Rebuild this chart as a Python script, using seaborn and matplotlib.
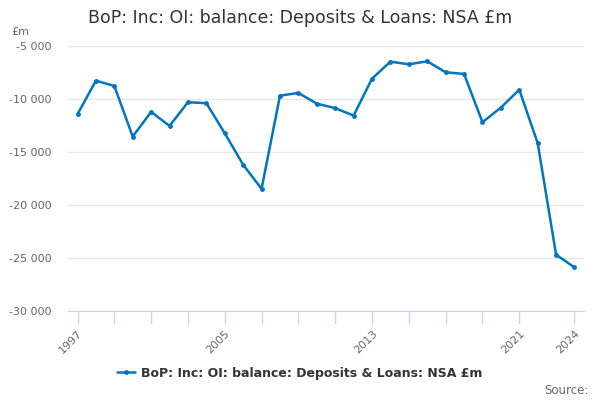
import seaborn as sns
import pandas as pd
import matplotlib.pyplot as plt
from matplotlib.ticker import FuncFormatter

# values (£m)
years = list(range(1997, 2025))
balance = [-11450, -8290, -8790, -13550, -11230, -12550, -10320, -10410,
           -13240, -16210, -18470, -9700, -9450, -10450, -10880, -11580,
           -8100, -6500, -6750, -6470, -7500, -7660, -12200, -10830,
           -9140, -14170, -24670, -25870]
series_name = "BoP: Inc: OI: balance: Deposits & Loans: NSA £m"
tick_years = [1997, 1999, 2001, 2003, 2005, 2007, 2009, 2011, 2013,
              2015, 2017, 2019, 2021, 2024]
label_years = [1997, 2005, 2013, 2021, 2024]
y_ticks = [-30000, -25000, -20000, -15000, -10000, -5000]

df = pd.DataFrame({"year": years, "value": balance})

sns.set_style("white")
plt.rcParams['font.family'] = ['DejaVu Sans']

line_col = "#0076c0"
fig = plt.figure(figsize=(6, 4), dpi=100)
ax = fig.add_axes([68.3 / 600, 1 - 311.3 / 400, (583.7 - 68.3) / 600, (311.3 - 45.7) / 400])

sns.lineplot(data=df, x="year", y="value", ax=ax, color=line_col, linewidth=1.8,
             marker="o", markersize=3.5, markeredgewidth=0, label=series_name)

ax.set_xlim(1996.5, 2024.5)
ax.set_ylim(-30000, -5000)
ax.set_yticks(y_ticks)
ax.yaxis.set_major_formatter(FuncFormatter(lambda v, p: f"{int(v):,}".replace(",", " ")))
ax.set_xticks(tick_years)
ax.set_xticklabels([str(y) if y in label_years else "" for y in tick_years],
                   rotation=45, ha="right", rotation_mode="anchor")
ax.tick_params(axis="x", length=9, color="#ccd6eb", width=1, labelsize=8,
               labelcolor="#666666", direction="out", bottom=True)
ax.tick_params(axis="y", length=0, labelsize=8, labelcolor="#666666", pad=12)
ax.grid(axis="y", color="#e6e6e6", linewidth=1)
ax.set_axisbelow(True)
for s in ["top", "right", "left"]:
    ax.spines[s].set_visible(False)
ax.spines["bottom"].set_color("#ccd6eb")
ax.set_xlabel("")
ax.set_ylabel("")

fig.text(11 / 600, 1 - 32 / 400, "£m", fontsize=8, color="#666666", va="center")
fig.suptitle(series_name, x=0.5, y=1 - 18 / 400, fontsize=12.5, color="#333333", va="center")

leg = ax.legend(loc="center", bbox_to_anchor=(0.5, 1 - 373 / 400),
                bbox_transform=fig.transFigure,
                frameon=False, handlelength=1.4, handletextpad=0.5,
                prop={"weight": "bold", "size": 9})
for t in leg.get_texts():
    t.set_color("#333333")

fig.text(589 / 600, 1 - 390 / 400, "Source:", fontsize=8.5, color="#666666", ha="right", va="center")

plt.savefig("out.png", dpi=100)
